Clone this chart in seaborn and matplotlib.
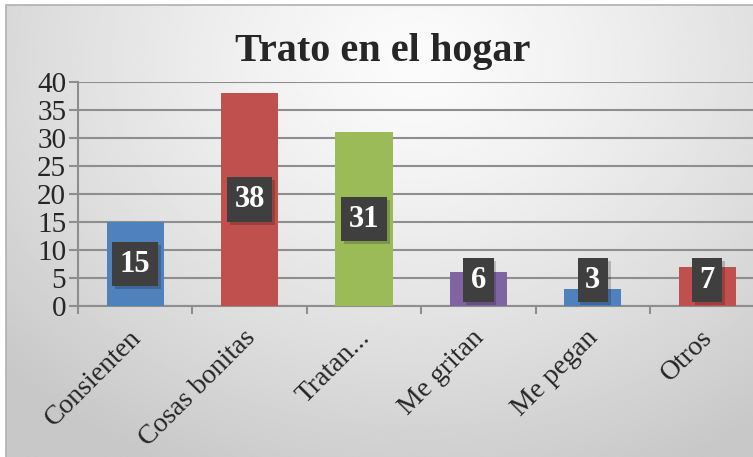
import matplotlib.patheffects as pe
import matplotlib.pyplot as plt
import matplotlib.transforms as mtransforms
import numpy as np
import pandas as pd
import seaborn as sns
from matplotlib.patches import Rectangle

categories = ["Consienten", "Cosas bonitas", "Tratan...", "Me gritan", "Me pegan", "Otros"]
values = [15, 38, 31, 6, 3, 7]
colors = ["#4F81BD", "#C0504D", "#9BBB59", "#8064A2", "#4F81BD", "#C0504D"]
y_ticks = [0, 5, 10, 15, 20, 25, 30, 35, 40]

df = pd.DataFrame({"cat": categories, "val": values})

sns.set_style("white")
plt.rcParams["font.family"] = ["Liberation Serif", "DejaVu Serif"]

W, H = 753, 457
fig = plt.figure(figsize=(W / 100, H / 100), dpi=100)
fig.patch.set_facecolor("white")

# fondo con degradado gris (marco del grafico)
bg = fig.add_axes((6 / W, 0, 1 - 6 / W, 1 - 5 / H))
yy, xx = np.mgrid[0:1:200j, 0:1:300j]
dist = np.sqrt(((xx - 0.55) / 0.75) ** 2 + ((yy - 0.12) / 1.0) ** 2)
grad = 0.985 - 0.2 * np.clip(dist, 0, 1) ** 1.3
bg.imshow(grad, cmap="gray", vmin=0, vmax=1, aspect="auto", extent=(0, 1, 1, 0))
bg.set_axis_off()
fig.add_artist(Rectangle((6 / W, -0.1), 2, 1.1 - 5 / H, transform=fig.transFigure,
                         fill=False, edgecolor="#b0b0b0", linewidth=1.2))

cat_w = 114.4
ax = fig.add_axes((78 / W, (H - 306) / H, 6 * cat_w / W, 224 / H))
ax.set_facecolor("none")

sns.barplot(data=df, x="cat", y="val", hue="cat", palette=colors, width=0.5,
            legend=False, saturation=1, linewidth=0, ax=ax, zorder=3)

ax.set_xlim(-0.5, 5.5)
ax.set_ylim(0, 40)
ax.set_yticks(y_ticks)
ax.yaxis.grid(True, color="#8e8e8e", linewidth=1.5, zorder=0)
ax.set_axisbelow(True)
for s in ["top", "right"]:
    ax.spines[s].set_visible(False)
for s in ["left", "bottom"]:
    ax.spines[s].set_color("#8e8e8e")
    ax.spines[s].set_linewidth(1.5)

ax.tick_params(axis="y", length=6.5, width=1.5, color="#8e8e8e", labelsize=21, pad=2,
               direction="out", left=True)
ax.set_xticks(np.arange(-0.5, 6, 1), minor=True)
ax.tick_params(axis="x", which="minor", length=6, width=1.5, color="#8e8e8e",
               direction="out", bottom=True)
ax.tick_params(axis="x", which="major", length=0, labelsize=20, pad=14)
ax.set_xticklabels(categories, rotation=45, ha="right", rotation_mode="anchor")
shift = mtransforms.ScaledTranslation(-5 / 72, 0, fig.dpi_scale_trans)
for lbl in ax.get_xticklabels():
    lbl.set_transform(lbl.get_transform() + shift)
ax.set_xlabel("")
ax.set_ylabel("")

# etiquetas de datos en cajas oscuras con sombra
for i, v in enumerate(values):
    ypos = max(v / 2, 4.6)
    t = ax.text(i, ypos, str(v), ha="center", va="center", fontsize=22,
                fontweight="bold", color="white", zorder=5,
                bbox=dict(boxstyle="square,pad=0.25", facecolor="#3f3f3f", edgecolor="none"))
    t.get_bbox_patch().set_path_effects(
        [pe.SimplePatchShadow(offset=(2, -2), shadow_rgbFace="#000000", alpha=0.2), pe.Normal()])

fig.text(383 / W, 1 - 51 / H, "Trato en el hogar", ha="center", va="center",
         fontsize=29, fontweight="bold")

fig.savefig("out.png", dpi=100)
